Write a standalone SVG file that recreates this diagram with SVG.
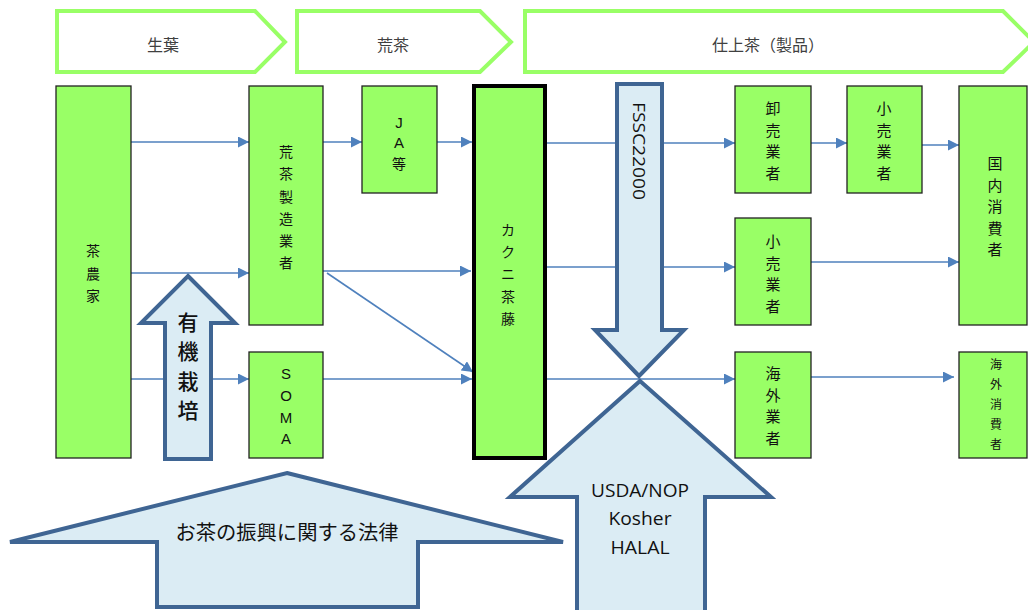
<svg xmlns="http://www.w3.org/2000/svg" width="1028" height="610" viewBox="0 0 1028 610">
<style>
.chev{fill:#ffffff;stroke:#99ff66;stroke-width:4;stroke-linejoin:miter}
.hdr{font-family:"Noto Sans CJK JP","Noto Sans",sans-serif;font-size:16px;fill:#404040;text-anchor:middle;dominant-baseline:central}
.box{fill:#99ff66;stroke:#222222;stroke-width:1.3}
.boxb{fill:#99ff66;stroke:#000000;stroke-width:4}
.lbl{font-family:"Noto Sans CJK JP","Noto Sans",sans-serif;font-size:14px;fill:#111111;text-anchor:middle;dominant-baseline:central}
.sm{font-size:12px}
.con{stroke:#4f81bd;stroke-width:1.6;fill:none;marker-end:url(#ah)}
.big{fill:#dbecf4;stroke:#3f6593;stroke-width:4;stroke-linejoin:miter}
.btxt{font-family:"Noto Sans CJK JP","Noto Sans",sans-serif;fill:#111111;text-anchor:middle;dominant-baseline:central}
.lat{font-family:"Open Sans","Noto Sans",sans-serif;font-size:18px;fill:#111111;text-anchor:middle;dominant-baseline:central}
</style>
<defs>
<marker id="ah" markerUnits="userSpaceOnUse" markerWidth="11" markerHeight="11" refX="11" refY="5.5" orient="auto">
<path d="M0,0 L11,5.5 L0,11 z" fill="#4f81bd"/>
</marker>
</defs>

<g id="header-seiyo">
<polygon class="chev" points="57,11 255,11 285,42 255,72 57,72"/>
<text class="hdr" x="163" y="44">生葉</text>
</g>
<g id="header-aracha">
<polygon class="chev" points="297,11 480,11 511,42 480,72 297,72"/>
<text class="hdr" x="393" y="44">荒茶</text>
</g>
<g id="header-shiage">
<polygon class="chev" points="525,11 1003,11 1034,42 1003,72 525,72"/>
<text class="hdr" x="768" y="44">仕上茶（製品）</text>
</g>

<g id="connectors">
<line class="con" x1="131" y1="142" x2="249" y2="142"/>
<line class="con" x1="131" y1="273" x2="249" y2="273"/>
<line class="con" x1="131" y1="379" x2="249" y2="379"/>
<line class="con" x1="323" y1="142" x2="362" y2="142"/>
<line class="con" x1="437" y1="142" x2="472" y2="142"/>
<line class="con" x1="323" y1="271" x2="471" y2="271"/>
<line class="con" x1="327" y1="273" x2="473" y2="372"/>
<line class="con" x1="323" y1="379" x2="472" y2="379"/>
<line class="con" x1="547" y1="143" x2="735" y2="143"/>
<line class="con" x1="547" y1="267" x2="735" y2="267"/>
<line class="con" x1="547" y1="379" x2="735" y2="379"/>
<line class="con" x1="811" y1="143" x2="847" y2="143"/>
<line class="con" x1="922" y1="145" x2="959" y2="145"/>
<line class="con" x1="811" y1="262" x2="959" y2="262"/>
<line class="con" x1="811" y1="377" x2="954" y2="377"/>
</g>

<g id="node-chanouka">
<rect class="box" x="56" y="86" width="75" height="372"/>
<text class="lbl"><tspan x="93" y="250">茶</tspan><tspan x="93" y="273">農</tspan><tspan x="93" y="295">家</tspan></text>
</g>
<g id="node-aracha-seizo">
<rect class="box" x="249" y="86" width="74" height="239"/>
<text class="lbl"><tspan x="286" y="151">荒</tspan><tspan x="286" y="173">茶</tspan><tspan x="286" y="196">製</tspan><tspan x="286" y="218">造</tspan><tspan x="286" y="240">業</tspan><tspan x="286" y="262">者</tspan></text>
</g>
<g id="node-soma">
<rect class="box" x="249" y="352" width="74" height="106"/>
<text class="lbl" style="font-family:'Liberation Sans',sans-serif;font-size:15px"><tspan x="286" y="373">S</tspan><tspan x="286" y="395">O</tspan><tspan x="286" y="417">M</tspan><tspan x="286" y="438">A</tspan></text>
</g>
<g id="node-ja">
<rect class="box" x="362" y="86" width="75" height="107"/>
<text class="lbl"><tspan x="399" y="122" style="font-family:'Liberation Sans',sans-serif;font-size:15px">J</tspan><tspan x="399" y="142" style="font-family:'Liberation Sans',sans-serif;font-size:15px">A</tspan><tspan x="399" y="163">等</tspan></text>
</g>
<g id="node-kakuni">
<rect class="boxb" x="474" y="86" width="71" height="372"/>
<text class="lbl"><tspan x="508" y="229">カ</tspan><tspan x="508" y="251">ク</tspan><tspan x="508" y="273">ニ</tspan><tspan x="508" y="296">茶</tspan><tspan x="508" y="318">藤</tspan></text>
</g>
<g id="node-oroshi">
<rect class="box" x="735" y="86" width="76" height="107"/>
<text class="lbl" style="font-size:15px"><tspan x="773" y="107">卸</tspan><tspan x="773" y="129">売</tspan><tspan x="773" y="150">業</tspan><tspan x="773" y="172">者</tspan></text>
</g>
<g id="node-kouri1">
<rect class="box" x="847" y="86" width="75" height="107"/>
<text class="lbl" style="font-size:15px"><tspan x="884" y="107">小</tspan><tspan x="884" y="129">売</tspan><tspan x="884" y="150">業</tspan><tspan x="884" y="172">者</tspan></text>
</g>
<g id="node-kokunai">
<rect class="box" x="959" y="86" width="68" height="239"/>
<text class="lbl" style="font-size:15px"><tspan x="995" y="162">国</tspan><tspan x="995" y="184">内</tspan><tspan x="995" y="205">消</tspan><tspan x="995" y="227">費</tspan><tspan x="995" y="248">者</tspan></text>
</g>
<g id="node-kouri2">
<rect class="box" x="735" y="218" width="76" height="107"/>
<text class="lbl" style="font-size:15px"><tspan x="773" y="240">小</tspan><tspan x="773" y="262">売</tspan><tspan x="773" y="283">業</tspan><tspan x="773" y="305">者</tspan></text>
</g>
<g id="node-kaigai">
<rect class="box" x="735" y="352" width="76" height="106"/>
<text class="lbl" style="font-size:15px"><tspan x="773" y="372">海</tspan><tspan x="773" y="394">外</tspan><tspan x="773" y="415">業</tspan><tspan x="773" y="437">者</tspan></text>
</g>
<g id="node-kaigai-shohi">
<rect class="box" x="959" y="352" width="68" height="106"/>
<text class="lbl sm"><tspan x="996" y="363">海</tspan><tspan x="996" y="383">外</tspan><tspan x="996" y="403">消</tspan><tspan x="996" y="423">費</tspan><tspan x="996" y="443">者</tspan></text>
</g>

<g id="arrow-yuki">
<polygon class="big" points="188,276 235,323 211,323 211,459 165,459 165,323 141,323"/>
<text class="btxt" style="font-size:21px;font-weight:500"><tspan x="188" y="321">有</tspan><tspan x="188" y="350">機</tspan><tspan x="188" y="380">栽</tspan><tspan x="188" y="409">培</tspan></text>
</g>
<g id="arrow-fssc">
<polygon class="big" points="617,84 662,84 662,330 684,330 639,376 595,330 617,330"/>
<text class="lat" style="font-size:16px" transform="translate(639,151) rotate(90)" x="0" y="0" textLength="98" lengthAdjust="spacingAndGlyphs">FSSC22000</text>
</g>
<g id="arrow-usda">
<polygon class="big" points="640,381 771,497 705,497 705,612 577,612 577,497 510,497"/>
<text class="lat" x="640" y="490" textLength="98" lengthAdjust="spacingAndGlyphs">USDA/NOP</text>
<text class="lat" x="640" y="518" textLength="63" lengthAdjust="spacingAndGlyphs">Kosher</text>
<text class="lat" x="640" y="547" textLength="59" lengthAdjust="spacingAndGlyphs">HALAL</text>
</g>
<g id="arrow-law">
<polygon class="big" points="287,473 563,542 418,542 418,607 157,607 157,542 10,542"/>
<text class="btxt" x="287" y="531" style="font-size:20px" textLength="223" lengthAdjust="spacingAndGlyphs">お茶の振興に関する法律</text>
</g>
</svg>
